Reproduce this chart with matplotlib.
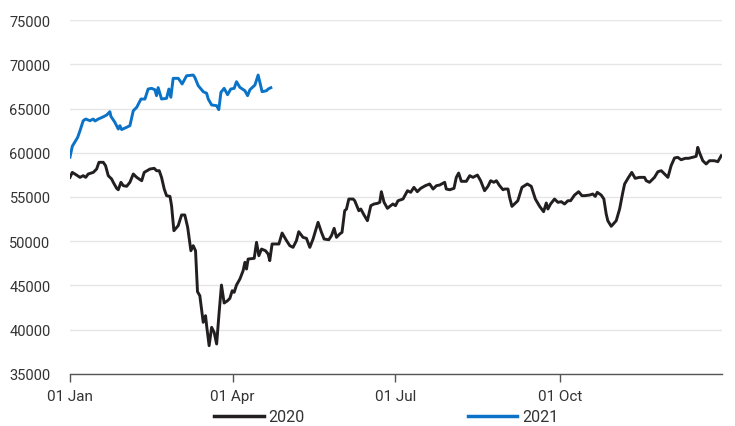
import matplotlib
matplotlib.use("Agg")
import matplotlib.pyplot as plt

# ---- data (day offset from 01 Jan, value) ----
days_2020 = [0, 1.3, 3.7, 5.6, 7.4, 8.8, 10.2, 13.0, 14.9, 16.2, 18.6, 19.9, 21.4, 23.3, 24.2, 26.1, 27.0, 28.5,
             29.8, 31.7, 33.5, 35.4, 37.3, 40.1, 41.5, 44.7, 47.1, 48.4, 49.9, 51.2, 52.7, 54.0, 55.9, 56.8, 58.1,
             60.5, 62.4, 64.2, 65.8, 67.6, 68.9, 70.2, 71.3, 72.6, 74.5, 75.8, 76.4, 77.8, 79.2, 80.6, 82.0, 83.4,
             84.7, 86.2, 88.1, 89.4, 90.7, 91.8, 93.1, 95.0, 96.8, 97.8, 98.7, 99.6, 103.0, 104.3, 105.6, 107.1,
             109.3, 110.8, 111.7, 113.0, 116.8, 118.6, 121.1, 122.9, 124.7, 126.6, 127.9, 130.3, 132.2, 134.1,
             135.9, 138.7, 140.6, 142.1, 144.7, 146.2, 147.7, 149.0, 150.8, 152.1, 153.6, 154.6, 155.9, 158.3,
             159.2, 161.5, 162.6, 164.4, 166.3, 168.2, 170.0, 171.9, 173.2, 174.1, 175.6, 177.5, 179.3, 180.6,
             182.0, 183.4, 186.2, 188.7, 190.5, 192.3, 194.2, 196.1, 198.7, 201.1, 203.0, 204.9, 206.7, 209.5,
             210.4, 212.3, 214.7, 216.0, 217.3, 218.8, 221.6, 223.5, 225.3, 227.8, 229.6, 231.8, 233.7, 235.2,
             237.0, 238.4, 240.2, 242.1, 243.0, 244.9, 245.8, 247.1, 250.4, 252.7, 255.7, 257.9, 260.2, 262.6,
             264.8, 266.3, 267.2, 268.7, 270.9, 272.8, 274.7, 276.5, 278.4, 279.9, 282.1, 284.4, 286.2, 287.7,
             290.5, 292.3, 293.7, 294.8, 297.0, 298.5, 299.8, 300.7, 302.6, 305.4, 307.3, 309.1, 310.1, 312.3,
             314.1, 316.0, 318.4, 321.2, 322.2, 324.0, 326.8, 328.7, 330.6, 332.4, 334.3, 336.1, 338.0, 339.8,
             341.7, 344.0, 345.8, 348.8, 350.1, 351.0, 351.9, 353.8, 355.7, 357.5, 360.3, 362.2, 364.1]
vals_2020 = [57220, 57780, 57480, 57220, 57410, 57220, 57600, 57780, 58160, 58920, 58920, 58540, 57410, 57030,
             56660, 55980, 55820, 56660, 56280, 56210, 56660, 57600, 57220, 56840, 57780, 58160, 58240, 57970,
             57970, 57220, 55900, 55150, 55070, 54020, 51190, 51760, 52970, 52970, 51580, 48930, 49500, 48930,
             44300, 43850, 40840, 41590, 40460, 38200, 40270, 39710, 38390, 41970, 45050, 43020, 43280, 43550,
             44410, 44230, 45050, 45730, 46670, 47620, 46860, 47990, 48070, 49880, 48370, 49120, 48930, 48560,
             47810, 49690, 49690, 50930, 50060, 49500, 49310, 50060, 51080, 50440, 50330, 49310, 50250, 52140,
             51010, 50250, 50170, 50630, 51460, 50440, 50820, 51010, 53450, 53640, 54770, 54770, 54580, 53450,
             53640, 52970, 52320, 54020, 54210, 54280, 54400, 55600, 54400, 53720, 54020, 54210, 54020, 54580,
             54770, 55710, 55530, 56090, 55600, 55980, 56280, 56470, 55900, 56280, 56350, 56660, 55900, 55820,
             55980, 57220, 57710, 56770, 56770, 57410, 57220, 57480, 56840, 55710, 56210, 56840, 56660, 56840,
             56280, 55820, 55900, 55900, 54960, 53940, 54580, 56090, 56470, 56210, 54770, 53940, 53340, 54320,
             53640, 54210, 54770, 54400, 54470, 54210, 54580, 54580, 55220, 55600, 55150, 55150, 55220, 55340,
             55070, 55530, 55220, 54770, 53080, 52320, 51690, 52320, 53640, 55530, 56470, 57220, 57780, 57110,
             57220, 57220, 56840, 56660, 57220, 57860, 57970, 57600, 57220, 58540, 59410, 59480, 59210, 59370,
             59370, 59520, 59600, 60610, 60050, 59100, 58730, 59100, 59100, 58990, 59660]

days_2021 = [0, 1.3, 4.3, 5.6, 7.4, 8.8, 11.2, 13.0, 14.0, 15.8, 18.0, 20.5, 22.3, 22.9, 25.1, 27.0, 27.9, 28.9,
             31.7, 33.5, 35.4, 37.3, 39.7, 41.9, 43.7, 45.6, 47.5, 48.4, 49.3, 51.2, 54.0, 55.3, 56.4, 57.7, 60.5,
             61.5, 62.7, 65.2, 68.9, 69.8, 71.7, 74.5, 76.4, 77.3, 79.2, 82.0, 83.2, 84.4, 86.2, 88.1, 89.9, 91.8,
             93.1, 95.0, 97.8, 99.3, 100.6, 103.4, 105.2, 106.7, 107.4, 109.9, 110.8, 112.3]
vals_2021 = [59500, 60730, 61740, 62490, 63620, 63810, 63620, 63810, 63590, 63810, 64000, 64260, 64640, 64110,
             63440, 62680, 63060, 62620, 62880, 63060, 64750, 65130, 66070, 66070, 67200, 67280, 67120, 66450,
             67360, 66070, 66150, 67200, 66270, 68410, 68410, 68140, 67770, 68700, 68780, 68520, 67580, 66900,
             66720, 66070, 65400, 65320, 64870, 66830, 67280, 66560, 67200, 67280, 68030, 67390, 67010, 66450,
             67120, 67650, 68780, 67510, 66900, 67010, 67200, 67350]

series_labels = ["2020", "2021"]
x_tick_days = [0, 91, 182, 274]
x_tick_labels = ["01 Jan", "01 Apr", "01 Jul", "01 Oct"]
y_ticks = [35000, 40000, 45000, 50000, 55000, 60000, 65000, 70000, 75000]

plt.rcParams['font.family'] = ['Roboto', 'DejaVu Sans']

fig = plt.figure(figsize=(7.35, 4.27), dpi=100)
ax = fig.add_axes([0.0952, 0.1218, 0.887, 0.829])

ax.plot(days_2020, vals_2020, color='#231f20', lw=2.1, label=series_labels[0], solid_joinstyle='round')
ax.plot(days_2021, vals_2021, color='#0a73c8', lw=2.1, label=series_labels[1], solid_joinstyle='round')

ax.set_xlim(0, 364.5)
ax.set_ylim(35000, 75000)
ax.set_yticks(y_ticks)
ax.set_yticklabels([str(v) for v in y_ticks])
ax.set_xticks(x_tick_days)
ax.set_xticklabels(x_tick_labels)

ax.grid(axis='y', color='#e6e6e6', lw=1)
ax.set_axisbelow(True)
for s in ['top', 'right', 'left']:
    ax.spines[s].set_visible(False)
ax.spines['bottom'].set_color('#555555')
ax.spines['bottom'].set_linewidth(1)
ax.tick_params(axis='y', length=0, pad=14, labelsize=10.5, labelcolor='#333333')
ax.tick_params(axis='x', length=6, width=1, color='#555555', pad=5, labelsize=11, labelcolor='#333333')

leg = ax.legend(loc='center', bbox_to_anchor=(0.485, -0.121), ncol=2, frameon=False,
                handlelength=3.1, handletextpad=0.3, columnspacing=10.2, fontsize=11.5,
                labelcolor='#333333', borderpad=0)
for line in leg.get_lines():
    line.set_linewidth(2.5)

fig.savefig('out.png', dpi=100)
